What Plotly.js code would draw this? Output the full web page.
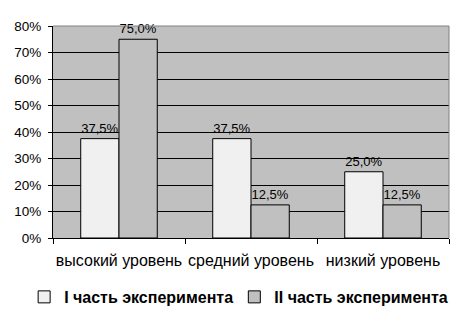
<!DOCTYPE html>
<html>
<head>
<meta charset="utf-8">
<script src="https://cdn.plot.ly/plotly-3.0.1.min.js"></script>
<style>html,body{margin:0;padding:0;background:#fff;}#chart{width:464px;height:320px;}</style>
</head>
<body>
<div id="chart"></div>
<script>
const categories = ["высокий уровень", "средний уровень", "низкий уровень"];
const seriesNames = ["I часть эксперимента", "II часть эксперимента"];
const part1 = [0.375, 0.375, 0.25];
const part2 = [0.75, 0.125, 0.125];
const yTicks = [0, 0.1, 0.2, 0.3, 0.4, 0.5, 0.6, 0.7, 0.8];

const font = "Liberation Sans, Arial, sans-serif";
const mk = (name, vals, color, leg) => ({
  type: "bar", name: name, x: categories, y: vals, legend: leg,
  marker: {color: color, line: {color: "#000", width: 1}},
  texttemplate: "%{y:.1%}", textposition: "outside", cliponaxis: false,
  textfont: {family: font, size: 13, color: "#000"},
  hoverinfo: "none"
});
const data = [
  mk(seriesNames[0], part1, "#f0f0f0", "legend"),
  mk(seriesNames[1], part2, "#c0c0c0", "legend2")
];
const legFont = {family: font, size: 16, color: "#000", weight: "bold"};
const layout = {
  width: 464, height: 320,
  margin: {l: 53, r: 15, t: 26, b: 82},
  paper_bgcolor: "#fff", plot_bgcolor: "#c0c0c0",
  separators: ", ",
  barmode: "group", bargap: 0.42, bargroupgap: 0,
  font: {family: font, color: "#000"},
  xaxis: {
    type: "category", tickson: "boundaries", ticks: "outside", ticklen: 5, tickcolor: "#000",
    showline: true, linecolor: "#000", linewidth: 1, showgrid: false, automargin: false,
    tickangle: 0, tickfont: {size: 16, family: font, color: "#000"}, ticklabelstandoff: 8
  },
  yaxis: {
    range: [0, 0.8], tickvals: yTicks, tickformat: ".0%", ticks: "outside", ticklen: 4, tickcolor: "#000",
    showline: true, linecolor: "#000", linewidth: 1, showgrid: true, gridcolor: "#000", gridwidth: 1,
    zeroline: false, automargin: false, tickfont: {size: 13.5, family: font, color: "#000"}, ticklabelstandoff: 4
  },
  showlegend: true,
  legend: {
    orientation: "h", xref: "container", yref: "container",
    x: 0.052, xanchor: "left", y: 0.072, yanchor: "middle",
    font: legFont, bgcolor: "rgba(0,0,0,0)"
  },
  legend2: {
    orientation: "h", xref: "container", yref: "container",
    x: 0.505, xanchor: "left", y: 0.072, yanchor: "middle",
    font: legFont, bgcolor: "rgba(0,0,0,0)"
  },
  shapes: [
    {type: "line", xref: "paper", yref: "paper", x0: 0, x1: 1, y0: 1, y1: 1, line: {color: "#808080", width: 1}},
    {type: "line", xref: "paper", yref: "paper", x0: 1, x1: 1, y0: 0, y1: 1, line: {color: "#808080", width: 1}}
  ]
};
Plotly.newPlot("chart", data, layout, {displayModeBar: false, staticPlot: true});
</script>
</body>
</html>
